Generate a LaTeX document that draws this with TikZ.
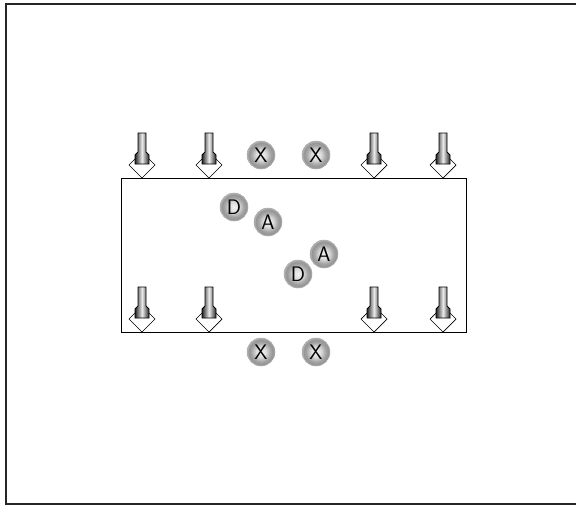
\documentclass[tikz,border=0pt]{standalone}
\pgfdeclareradialshading{myball}{\pgfpoint{0bp}{0bp}}{%
  color(0bp)=(gray!10); color(9bp)=(gray!28); color(17bp)=(gray!70); color(22bp)=(gray!85); color(25bp)=(gray!55); color(50bp)=(gray!55)}
\begin{document}
\begin{tikzpicture}[x=1pt,y=-1pt,
  ball/.style={circle,minimum size=28pt,inner sep=0pt,font=\fontsize{21}{21}\sffamily,
    shading=myball,draw=gray!70,line width=0.5pt},
  pinbar/.style={draw=black,line width=0.8pt,left color=black!85,right color=black!85,middle color=gray!15},
  pindia/.style={draw=black,line width=0.7pt,fill=white}]
\useasboundingbox (0,0) rectangle (576,506);
\draw[line width=1.6pt,black!85] (576,4) -- (6,4) -- (6,504) -- (576,504);
\node[draw=black,line width=1.2pt,minimum width=345pt,minimum height=154pt,anchor=north west,inner sep=0pt] (box) at (121,178) {};
\newcommand{\mypin}[3]{%
  \coordinate (#3) at (#1,#2);
  \draw[pindia] (#3) -- ++(-13,-13) -- ++(13,-13) -- ++(13,13) -- cycle;
  \draw[pinbar] (#3) ++(-4,-45) -- ++(8,0) -- ++(0,19) -- ++(3,3) -- ++(0,9) -- ++(-14,0) -- ++(0,-9) -- ++(3,-3) -- cycle;
}
\mypin{142}{178}{pt1}
\mypin{209}{178}{pt2}
\mypin{374}{178}{pt3}
\mypin{443}{178}{pt4}
\mypin{142}{332}{pb1}
\mypin{209}{332}{pb2}
\mypin{374}{332}{pb3}
\mypin{443}{332}{pb4}
\node[ball] (xt1) at (261,155) {X};
\node[ball] (xt2) at (316,155) {X};
\node[ball] (xb1) at (261,352) {X};
\node[ball] (xb2) at (316,352) {X};
\node[ball] (d1) at (234,207) {D};
\node[ball] (a1) at (268,222) {A};
\node[ball] (a2) at (324,254) {A};
\node[ball] (d2) at (298,274) {D};
\end{tikzpicture}
\end{document}
